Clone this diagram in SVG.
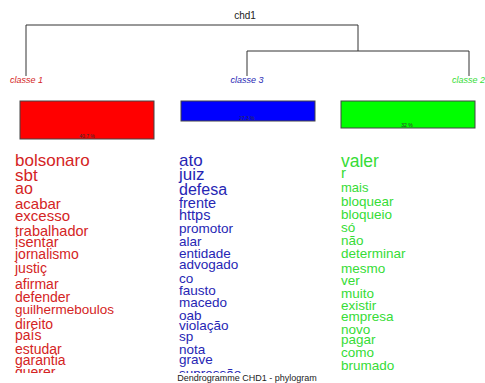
<svg xmlns="http://www.w3.org/2000/svg" width="485" height="383" viewBox="0 0 485 383">
<style>
text{font-family:"Liberation Sans",Arial,sans-serif}
.tree{stroke:#333;stroke-width:1;fill:none}
.cl{font-size:9px;font-style:italic}
.bar{stroke:#444;stroke-width:1}
.pct{font-size:5px;fill:#333;text-anchor:middle}
.r{fill:#d42424}
.b{fill:#2626b4}
.g{fill:#36dc36}
</style>
<defs><clipPath id="cp"><rect x="0" y="0" width="485" height="373"/></clipPath></defs>
<rect width="485" height="383" fill="#fff"/>
<text x="245" y="19" font-size="10" text-anchor="middle" fill="#222">chd1</text>
<g id="connectors" class="tree">
<path d="M26 76V25H358V51"/>
<path d="M247 76V51H469V76"/>
</g>
<g id="classe1">
<text class="cl r" x="10" y="83">classe  1</text>
<rect class="bar" x="20" y="101" width="134" height="38" fill="#f00"/>
<text class="pct" x="87" y="138">40.7 %</text>
</g>
<g id="classe3">
<text class="cl b" x="247" y="83" text-anchor="middle">classe  3</text>
<rect class="bar" x="181" y="101" width="134" height="20" fill="#00f"/>
<text class="pct" x="247" y="120">27.3 %</text>
</g>
<g id="classe2">
<text class="cl g" x="452" y="83">classe  2</text>
<rect class="bar" x="341" y="101" width="134" height="27" fill="#0f0"/>
<text class="pct" x="407" y="127">32 %</text>
</g>
<g clip-path="url(#cp)">
<g id="words1" class="r">
<text x="15" y="166" font-size="17">bolsonaro</text>
<text x="15" y="181" font-size="17">sbt</text>
<text x="15" y="194" font-size="16">ao</text>
<text x="15" y="209" font-size="15">acabar</text>
<text x="15" y="221" font-size="15">excesso</text>
<text x="15" y="236" font-size="14.5">trabalhador</text>
<text x="15" y="247" font-size="14.5">isentar</text>
<text x="15" y="259" font-size="14">jornalismo</text>
<text x="15" y="273" font-size="14">justiç</text>
<text x="15" y="289" font-size="14">afirmar</text>
<text x="15" y="302" font-size="14">defender</text>
<text x="15" y="314" font-size="13.5">guilhermeboulos</text>
<text x="15" y="329" font-size="14">direito</text>
<text x="15" y="340" font-size="14">país</text>
<text x="15" y="354" font-size="14">estudar</text>
<text x="15" y="365" font-size="14">garantia</text>
<text x="15" y="377" font-size="14">querer</text>
</g>
<g id="words3" class="b">
<text x="179" y="166" font-size="17">ato</text>
<text x="179" y="180" font-size="17">juiz</text>
<text x="179" y="195" font-size="16">defesa</text>
<text x="179" y="208" font-size="14.5">frente</text>
<text x="179" y="220" font-size="14.5">https</text>
<text x="179" y="233" font-size="13.5">promotor</text>
<text x="179" y="246" font-size="13.5">alar</text>
<text x="179" y="258" font-size="13.5">entidade</text>
<text x="179" y="269" font-size="13.5">advogado</text>
<text x="179" y="283" font-size="13.5">co</text>
<text x="179" y="295" font-size="13.5">fausto</text>
<text x="179" y="307" font-size="13.5">macedo</text>
<text x="179" y="320" font-size="13.5">oab</text>
<text x="179" y="330" font-size="13.5">violação</text>
<text x="179" y="341" font-size="13.5">sp</text>
<text x="179" y="354" font-size="13.5">nota</text>
<text x="179" y="364" font-size="13.5">grave</text>
<text x="179" y="378" font-size="13.5">supressão</text>
</g>
<g id="words2" class="g">
<text x="341" y="167" font-size="17.5">valer</text>
<text x="341" y="178" font-size="15">r</text>
<text x="341" y="192" font-size="13">mais</text>
<text x="341" y="206" font-size="13.5">bloquear</text>
<text x="341" y="219" font-size="13.5">bloqueio</text>
<text x="341" y="232" font-size="13.5">só</text>
<text x="341" y="245" font-size="13.5">não</text>
<text x="341" y="258" font-size="13.5">determinar</text>
<text x="341" y="273" font-size="13.5">mesmo</text>
<text x="341" y="285" font-size="13.5">ver</text>
<text x="341" y="298" font-size="13.5">muito</text>
<text x="341" y="310" font-size="13.5">existir</text>
<text x="341" y="321" font-size="13.5">empresa</text>
<text x="341" y="334" font-size="13.5">novo</text>
<text x="341" y="344" font-size="13.5">pagar</text>
<text x="341" y="357" font-size="13.5">como</text>
<text x="341" y="370" font-size="13.5">brumado</text>
</g>
</g>
<text x="247" y="381" font-size="9" text-anchor="middle" fill="#222">Dendrogramme CHD1 - phylogram</text>
</svg>
